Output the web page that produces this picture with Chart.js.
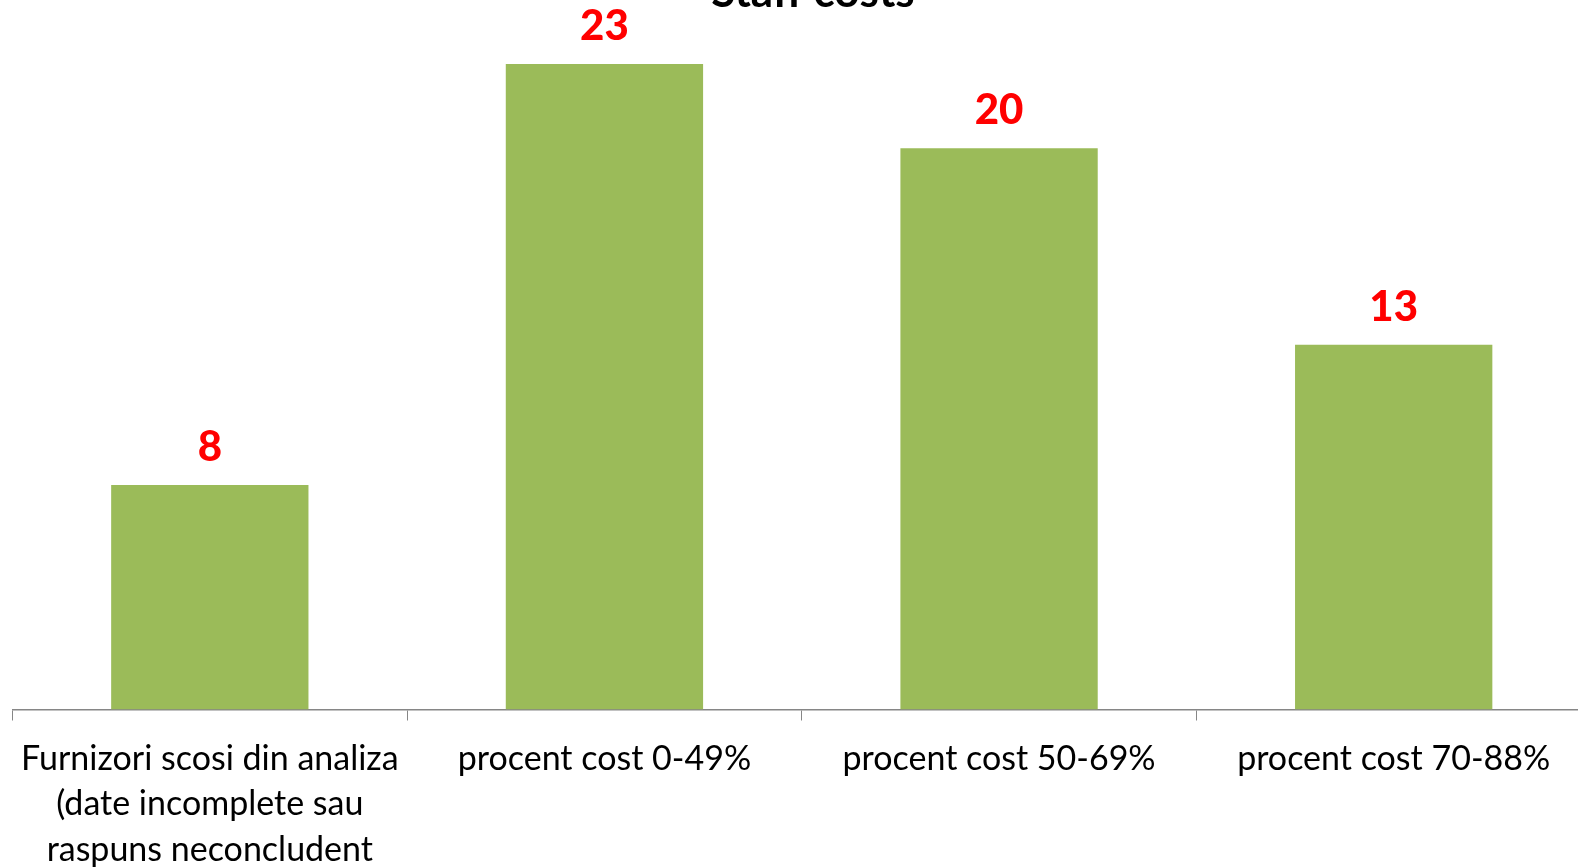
<!DOCTYPE html>
<html>
<head>
<meta charset="utf-8">
<script src="https://cdn.jsdelivr.net/npm/chart.js@4/dist/chart.umd.min.js"></script>
<style>
  html, body { margin: 0; padding: 0; background: #fff; overflow: hidden; }
  #wrap { position: absolute; left: 0; top: 0; width: 1600px; height: 867px; }
</style>
</head>
<body>
<div id="wrap"><canvas id="chart"></canvas></div>
<script>
const TITLE = "Staff costs";
const CATEGORIES = [
  ["Furnizori scosi din analiza", "(date incomplete sau", "raspuns neconcludent"],
  "procent cost 0-49%",
  "procent cost 50-69%",
  "procent cost 70-88%",
];
const VALUES = [8, 23, 20, 13];

const FONT = "Lato, 'Open Sans', sans-serif";

// titlu (taiat sus) + etichete rosii deasupra barelor
const overlay = {
  id: "overlay",
  afterDatasetsDraw(chart) {
    const ctx = chart.ctx;
    const area = chart.chartArea;
    ctx.save();
    ctx.fillStyle = "#000";
    ctx.font = "bold 44px " + FONT;
    ctx.textAlign = "center";
    ctx.textBaseline = "alphabetic";
    ctx.fillText(TITLE, 813, area.top - 1);

    ctx.fillStyle = "#ff0000";
    ctx.font = "900 42px " + FONT;
    chart.getDatasetMeta(0).data.forEach((bar, i) => {
      ctx.fillText(String(VALUES[i]), bar.x, bar.y - 24);
    });
    ctx.restore();
  },
};

new Chart(document.getElementById("chart"), {
  type: "bar",
  data: {
    labels: CATEGORIES,
    datasets: [
      {
        data: VALUES,
        backgroundColor: "#9bbb59",
        barPercentage: 0.5,
        categoryPercentage: 1,
      },
    ],
  },
  options: {
    responsive: true,
    maintainAspectRatio: false,
    animation: false,
    layout: { padding: { left: 12.5, right: 9, top: 8, bottom: 0 } },
    plugins: {
      legend: { display: false },
      tooltip: { enabled: false },
    },
    scales: {
      x: {
        grid: {
          offset: true,
          drawOnChartArea: false,
          drawTicks: true,
          tickLength: 11,
          color: "#868686",
        },
        border: { color: "#868686", width: 1.5 },
        ticks: {
          color: "#000",
          maxRotation: 0,
          autoSkip: false,
          padding: 16,
          font: { family: FONT, size: 34, lineHeight: 1.33 },
        },
        afterFit(scale) {
          scale.height = 157.5;
          scale.paddingLeft = 0;
          scale.paddingRight = 0;
        },
      },
      y: {
        display: false,
        min: 0,
        max: 25,
      },
    },
  },
  plugins: [overlay],
});
</script>
</body>
</html>
